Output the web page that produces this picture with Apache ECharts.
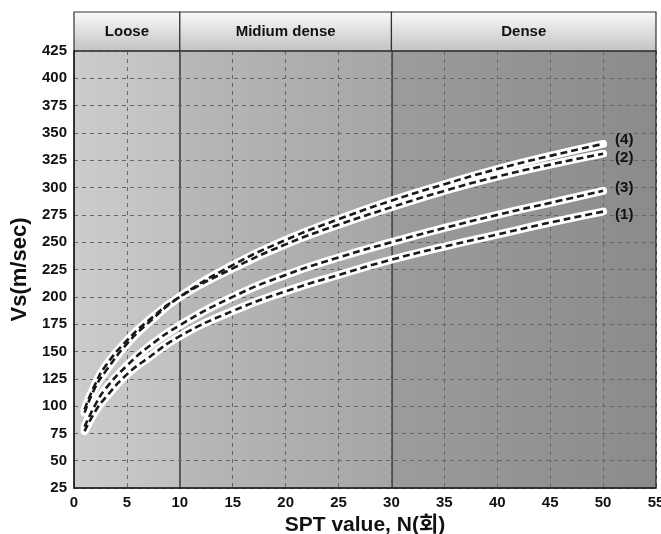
<!DOCTYPE html>
<html>
<head>
<meta charset="utf-8">
<script src="https://cdn.jsdelivr.net/npm/echarts@6/dist/echarts.min.js"></script>
<style>
  html, body { margin: 0; padding: 0; background: #fff; }
  #main { width: 661px; height: 534px; }
</style>
</head>
<body>
<div id="main"></div>
<script>
// SPT N value vs shear wave velocity
var nVals = [1, 2, 3, 5, 7, 10, 15, 20, 25, 30, 35, 40, 45, 50];
var vs1 = [77, 95, 108, 129, 144, 164, 187, 205, 220, 234, 246, 257, 268, 278];
var vs2 = [97, 120, 137, 160, 178, 200, 226, 248, 266, 282, 297, 310, 321, 331];
var vs3 = [81, 101, 116, 137, 154, 174, 200, 220, 236, 250, 263, 275, 286, 297];
var vs4 = [94, 117, 132, 157, 176, 200, 229, 252, 271, 288, 303, 317, 329, 340];
var curveNames = ['(1)', '(2)', '(3)', '(4)'];
var labelShift = [3, 4, -3, -4];

var zoneNames = ['Loose', 'Midium dense', 'Dense'];
var zoneFrom = [0, 10, 30];
var zoneTo = [10, 30, 55];
var zoneColors = [['#cccccc', '#c0c0c0'], ['#b8b8b8', '#a6a6a6'], ['#9c9c9c', '#8b8b8b']];

var font = '"Liberation Sans", Arial, "Noto Sans CJK KR", sans-serif';

function pairs(vals) {
  return nVals.map(function (n, i) { return [n, vals[i]]; });
}

var series = [];

// zone shading, on the bottom layer so grid lines sit on top
series.push({
  type: 'line', xAxisIndex: 0, yAxisIndex: 0, zlevel: 0, silent: true,
  data: [], showSymbol: false,
  markArea: {
    silent: true,
    data: zoneNames.map(function (nm, i) {
      return [{
        xAxis: zoneFrom[i],
        itemStyle: {
          color: {
            type: 'linear', x: 0, y: 0, x2: 1, y2: 0,
            colorStops: [{ offset: 0, color: zoneColors[i][0] }, { offset: 1, color: zoneColors[i][1] }]
          }
        }
      }, { xAxis: zoneTo[i] }];
    })
  }
});

// header cells
series.push({
  type: 'line', xAxisIndex: 1, yAxisIndex: 1, zlevel: 1, silent: true,
  data: [], showSymbol: false,
  markArea: {
    silent: true,
    label: {
      show: true, position: 'inside', color: '#111',
      fontFamily: font, fontWeight: 'bold', fontSize: 15
    },
    data: zoneNames.map(function (nm, i) {
      return [{
        name: nm, xAxis: zoneFrom[i],
        itemStyle: {
          borderColor: '#333', borderWidth: 1.2,
          color: {
            type: 'linear', x: 0, y: 0, x2: 0, y2: 1,
            colorStops: [{ offset: 0, color: '#fbfbfb' }, { offset: 1, color: '#c2c2c2' }]
          }
        }
      }, { xAxis: zoneTo[i] }];
    })
  }
});

// zone boundaries
series.push({
  type: 'line', xAxisIndex: 0, yAxisIndex: 0, zlevel: 1, z: 2, silent: true,
  data: [], showSymbol: false,
  markLine: {
    silent: true, symbol: 'none', label: { show: false },
    lineStyle: { color: '#333', type: 'solid', width: 1.5 },
    data: [{ xAxis: 10 }, { xAxis: 30 }]
  }
});

[vs1, vs2, vs3, vs4].forEach(function (vals, i) {
  series.push({
    type: 'line', xAxisIndex: 0, yAxisIndex: 0, zlevel: 1, z: 3,
    data: pairs(vals), smooth: true, showSymbol: false, silent: true,
    lineStyle: { color: '#fff', width: 8, cap: 'round' }
  });
  series.push({
    type: 'line', xAxisIndex: 0, yAxisIndex: 0, zlevel: 1, z: 4,
    data: pairs(vals), smooth: true, showSymbol: false, silent: true,
    lineStyle: { color: '#1a1a1a', width: 2.6, type: [7, 4] },
    endLabel: {
      show: true, formatter: curveNames[i], distance: 12,
      offset: [0, labelShift[i]],
      color: '#111', fontFamily: font, fontWeight: 'bold', fontSize: 15
    }
  });
});

var chart = echarts.init(document.getElementById('main'));
chart.setOption({
  animation: false,
  backgroundColor: '#fff',
  grid: [
    { left: 74, right: 5, top: 51, bottom: 46, outerBoundsMode: 'none', containLabel: false,
      show: true, borderColor: '#222', borderWidth: 1.2, zlevel: 1, z: 5 },
    { left: 74, right: 5, top: 12, bottom: 483, outerBoundsMode: 'none', containLabel: false }
  ],
  xAxis: [{
    gridIndex: 0, type: 'value', min: 0, max: 55, interval: 5, zlevel: 1,
    name: 'SPT value, N(회)', nameLocation: 'middle', nameGap: 19,
    nameTextStyle: { fontFamily: font, fontWeight: 'bold', fontSize: 21, color: '#111' },
    axisLine: { lineStyle: { color: '#222', width: 1.5 } },
    axisTick: { show: false },
    axisLabel: { fontFamily: font, fontWeight: 'bold', fontSize: 15, color: '#111', margin: 7 },
    splitLine: { show: true, lineStyle: { color: '#666', type: [4, 4], width: 1 } }
  }, {
    gridIndex: 1, type: 'value', min: 0, max: 55, show: false
  }],
  yAxis: [{
    gridIndex: 0, type: 'value', min: 25, max: 425, interval: 25, zlevel: 1,
    name: 'Vs(m/sec)', nameLocation: 'middle', nameGap: 40,
    nameTextStyle: { fontFamily: font, fontWeight: 'bold', fontSize: 22, color: '#111' },
    axisLine: { show: true, lineStyle: { color: '#222', width: 1.5 } },
    axisTick: { show: false },
    axisLabel: { fontFamily: font, fontWeight: 'bold', fontSize: 15, color: '#111', margin: 7 },
    splitLine: { show: true, lineStyle: { color: '#666', type: [4, 4], width: 1 } }
  }, {
    gridIndex: 1, type: 'value', min: 0, max: 1, show: false
  }],
  series: series
});
</script>
</body>
</html>
